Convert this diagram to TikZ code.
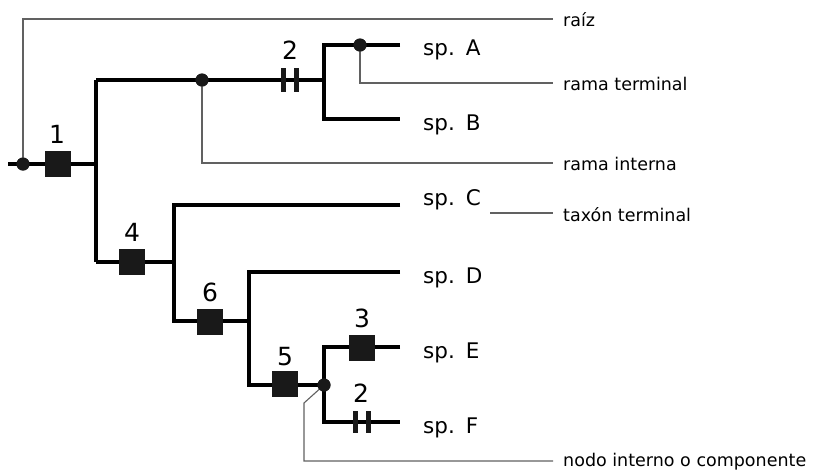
\documentclass[tikz,border=0pt]{standalone}
\usepackage{fontspec}
\setmainfont{DejaVu Sans}
\begin{document}
\begin{tikzpicture}[x=1pt,y=-1pt,
  br/.style={line width=3.5pt, line join=miter},
  ptr/.style={line width=1.1pt, draw=black!62},
  sq/.style={fill=black!90, minimum size=26pt, inner sep=0pt, draw=none},
  dt/.style={circle, fill=black!90, minimum size=13pt, inner sep=0pt},
  bar/.style={fill=black!90, minimum width=5pt, minimum height=24pt, inner sep=0pt},
  num/.style={font=\fontsize{25}{25}\selectfont, anchor=base, inner sep=0pt},
  spn/.style={font=\fontsize{21.5}{21.5}\selectfont, anchor=base west, inner sep=0pt},
  lab/.style={font=\fontsize{17.5}{17.5}\selectfont, anchor=base west, inner sep=0pt}]
\useasboundingbox (0,0) rectangle (824,472);
% junctions
\coordinate (root) at (8,164);
\coordinate (v1) at (96,164);
\coordinate (v1t) at (96,80);
\coordinate (v1b) at (96,262);
\coordinate (v2) at (324,80);
\coordinate (v2t) at (324,45);
\coordinate (v2b) at (324,119);
\coordinate (endA) at (400,45);
\coordinate (endB) at (400,119);
\coordinate (v3) at (174,262);
\coordinate (v3t) at (174,205);
\coordinate (v3b) at (174,321);
\coordinate (endC) at (400,205);
\coordinate (v4) at (249,321);
\coordinate (v4t) at (249,272);
\coordinate (v4b) at (249,385);
\coordinate (endD) at (400,272);
\coordinate (v5) at (324,385);
\coordinate (v5t) at (324,347);
\coordinate (v5b) at (324,422);
\coordinate (endE) at (400,347);
\coordinate (endF) at (400,422);
% branches
\draw[br] (root) -- (v1);
\draw[br] (v1t) -- (v1b);
\draw[br] (v1t) -- (v2);
\draw[br] (endA) -- (v2t) -- (v2b) -- (endB);
\draw[br] (v1b) -- (v3);
\draw[br] (endC) -- (v3t) -- (v3b) -- (v4);
\draw[br] (endD) -- (v4t) -- (v4b) -- (v5);
\draw[br] (endE) -- (v5t) -- (v5b) -- (endF);
% pointer lines
\coordinate (rzE) at (553,19);
\coordinate (rtE) at (553,83);
\coordinate (riE) at (553,163);
\coordinate (txS) at (490,213);
\coordinate (txE) at (553,213);
\coordinate (k1) at (304,403);
\coordinate (k2) at (304,461);
\coordinate (niE) at (553,461);
\node[dt] (d0) at (23,164) {};
\node[dt] (d1) at (202,80) {};
\node[dt] (dA) at (360,45) {};
\node[dt] (d5) at (324,385) {};
\draw[ptr] (d0.center) |- (rzE);
\draw[ptr] (d1.center) |- (riE);
\draw[ptr] (dA.center) |- (rtE);
\draw[ptr] (txS) -- (txE);
\draw[ptr] (d5.center) -- (k1) -- (k2) -- (niE);
\node[dt] at (d0) {};
\node[dt] at (d1) {};
\node[dt] at (dA) {};
\node[dt] at (d5) {};
% characters
\node[sq] (b1) at (58,164) {};
\node[sq] (b4) at (132,262) {};
\node[sq] (b6) at (210,322) {};
\node[sq] (b5) at (285,384) {};
\node[sq] (b3) at (362,348) {};
\node[bar] (p1) at (283,80) {};
\node[bar] (p2) at (296,80) {};
\node[bar, minimum height=22pt] (p3) at (355,422) {};
\node[bar, minimum height=22pt] (p4) at (368,422) {};
\node[num] (n1) at (57,143) {1};
\node[num] (n2) at (290,59) {2};
\node[num] (n4) at (132,241) {4};
\node[num] (n6) at (210,301) {6};
\node[num] (n5) at (285,365) {5};
\node[num] (n3) at (362,327) {3};
\node[num] (n2b) at (361,402) {2};
% taxa
\node[spn] (spA) at (423,55) {sp.\hspace{2pt} A};
\node[spn] (spB) at (423,130) {sp.\hspace{2pt} B};
\node[spn] (spC) at (423,205) {sp.\hspace{2pt} C};
\node[spn] (spD) at (423,283) {sp.\hspace{2pt} D};
\node[spn] (spE) at (423,358) {sp.\hspace{2pt} E};
\node[spn] (spF) at (423,433) {sp.\hspace{2pt} F};
% labels
\node[lab] (raiz) at (563,26) {raíz};
\node[lab] (rterm) at (563,90) {rama terminal};
\node[lab] (rint) at (563,170) {rama interna};
\node[lab] (txt) at (563,221) {taxón terminal};
\node[lab] (nint) at (563,466) {nodo interno o componente};
\end{tikzpicture}
\end{document}
